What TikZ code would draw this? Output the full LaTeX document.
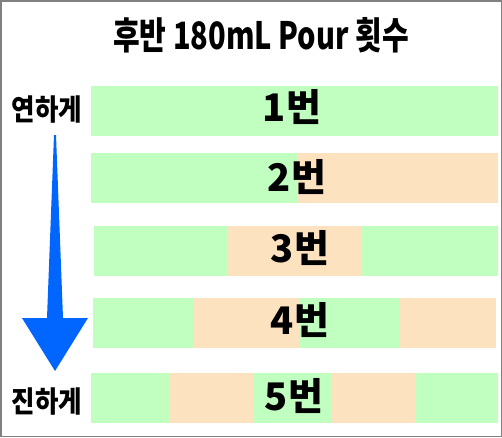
\documentclass[tikz,border=0pt]{standalone}
\usepackage{fontspec}
\newfontfamily\kr{Noto Sans CJK KR}
\definecolor{gseg}{RGB}{192,255,192}
\definecolor{oseg}{RGB}{253,226,192}
\definecolor{arrowblue}{RGB}{0,102,255}
\definecolor{frame}{RGB}{128,128,128}
\tikzset{
  title/.style={font=\kr\bfseries\fontsize{29}{32}\selectfont, inner sep=0pt},
  side/.style={font=\kr\bfseries\fontsize{25.5}{27}\selectfont, inner sep=0pt},
  count/.style={font=\kr\bfseries\fontsize{38}{40}\selectfont, inner sep=0pt},
  g/.style={fill=gseg},
  o/.style={fill=oseg},
}
\begin{document}
\begin{tikzpicture}[x=1pt,y=-1pt]
\useasboundingbox (0,0) rectangle (502,437);
\fill[white] (0,0) rectangle (502,437);
\draw[frame, line width=1.5pt] (0.75,0.75) rectangle (501.25,436.25);

% title
\node[title] (title) at (261,35) {\scalebox{1}[1.3]{후반 180mL Pour 횟수}};

% bar 1
\fill[g] (91,86) rectangle (498,136);
% bar 2
\fill[g] (91,153) rectangle (297,203);
\fill[o] (297,153) rectangle (498,203);
% bar 3
\fill[g] (94,226) rectangle (228,276);
\fill[o] (228,226) rectangle (362,276);
\fill[g] (362,226) rectangle (498,276);
% bar 4
\fill[g] (93,298) rectangle (194,348);
\fill[o] (194,298) rectangle (299,348);
\fill[g] (299,298) rectangle (400,348);
\fill[o] (400,298) rectangle (496,348);
% bar 5
\fill[g] (91,373) rectangle (170,423);
\fill[o] (170,373) rectangle (253,423);
\fill[g] (253,373) rectangle (332,423);
\fill[o] (332,373) rectangle (415,423);
\fill[g] (415,373) rectangle (498,423);

% counts
\node[count] (c1) at (292,107) {1번};
\node[count] (c2) at (297,177) {2번};
\node[count] (c3) at (300,248) {3번};
\node[count] (c4) at (300,320) {4번};
\node[count] (c5) at (294,396) {5번};

% side labels
\node[side] (light) at (47,110) {\scalebox{1}[1.15]{연하게}};
\node[side] (dark) at (47,402) {\scalebox{1}[1.15]{진하게}};

% arrow
\fill[arrowblue] (54,135) -- (56,135) -- (63,318) -- (88,318) -- (55,371) -- (22,318) -- (47,318) -- cycle;
\end{tikzpicture}
\end{document}
